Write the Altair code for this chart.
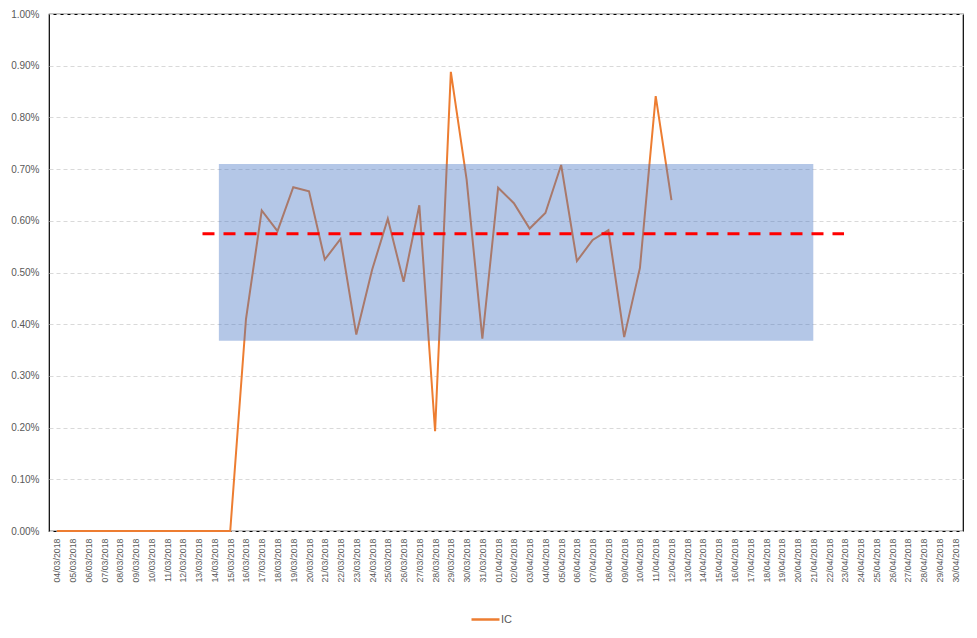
import altair as alt
import pandas as pd
import datetime as dt

start = dt.date(2018, 3, 4)
dates = [(start + dt.timedelta(days=i)).strftime("%d/%m/%Y") for i in range(58)]

ic_values = [0.0] * 12 + [
    0.41, 0.62, 0.58, 0.665, 0.657, 0.525, 0.565, 0.38, 0.505, 0.604,
    0.482, 0.63, 0.193, 0.888, 0.68, 0.372, 0.664, 0.634, 0.585, 0.615,
    0.708, 0.522, 0.563, 0.582, 0.375, 0.509, 0.841, 0.64,
]

band_start, band_end = 10.28, 48.0
band_low, band_high = 0.368, 0.710
mean_start, mean_end = 9.24, 49.95
mean_value = 0.575

line_df = pd.DataFrame({
    "idx": list(range(len(ic_values))),
    "value": [v / 100 for v in ic_values],
    "series": ["IC"] * len(ic_values),
})
band_df = pd.DataFrame({"x": [band_start], "x2": [band_end],
                        "y": [band_low / 100], "y2": [band_high / 100]})
mean_df = pd.DataFrame({"x": [mean_start], "x2": [mean_end], "y": [mean_value / 100]})

label_expr = "[" + ",".join(f"'{d}'" for d in dates) + "][datum.value]"

x_scale = alt.Scale(domain=[-0.5, 57.5], nice=False, zero=False)
y_scale = alt.Scale(domain=[0, 0.01], nice=False)

x_axis = alt.Axis(values=list(range(58)), labelExpr=label_expr, labelAngle=270,
                  labelAlign="right", labelBaseline="middle", labelFontSize=8.8,
                  labelColor="#595959", labelFont="Liberation Sans", labelPadding=7,
                  ticks=False, domain=False, grid=False, title=None, labelOverlap=False,
                  labelBound=False, labelFlush=False)
y_axis = alt.Axis(values=[i / 1000 for i in range(11)], format=".2%", labelFontSize=10,
                  labelColor="#595959", labelFont="Liberation Sans", labelPadding=10,
                  ticks=False, domain=False, grid=True, gridColor="#d9d9d9",
                  gridDash=[4, 3], gridWidth=1, title=None, labelOverlap=False)

line = alt.Chart(line_df).mark_line(strokeWidth=2).encode(
    x=alt.X("idx:Q", scale=x_scale, axis=x_axis),
    y=alt.Y("value:Q", scale=y_scale, axis=y_axis),
    color=alt.Color("series:N", scale=alt.Scale(domain=["IC"], range=["#ED7D31"]),
                    legend=alt.Legend(title=None, orient="none", legendX=421, legendY=590,
                                      symbolType="stroke", symbolSize=784,
                                      symbolStrokeWidth=2.5, labelFontSize=11,
                                      labelColor="#595959", labelFont="Liberation Sans",
                                      labelOffset=0, padding=0)),
)

band = alt.Chart(band_df).mark_rect(color="#4472C4", opacity=0.4).encode(
    x=alt.X("x:Q", scale=x_scale, axis=x_axis), x2="x2:Q",
    y=alt.Y("y:Q", scale=y_scale, axis=y_axis), y2="y2:Q",
)

mean_line = alt.Chart(mean_df).mark_rule(color="#FF0000", strokeWidth=3,
                                         strokeDash=[12, 9]).encode(
    x=alt.X("x:Q", scale=x_scale, axis=x_axis), x2="x2:Q",
    y=alt.Y("y:Q", scale=y_scale, axis=y_axis),
)

chart = alt.layer(line, band, mean_line).properties(
    width=914, height=517,
    background="white",
    autosize=alt.AutoSizeParams(type="none"),
    padding={"left": 41, "top": 6, "right": 6, "bottom": 98},
).configure_view(stroke="#000000", strokeWidth=1.2).configure_axisX(labelOverlap=False)

chart.save("out.html", embed_options={"renderer": "svg", "actions": False})
